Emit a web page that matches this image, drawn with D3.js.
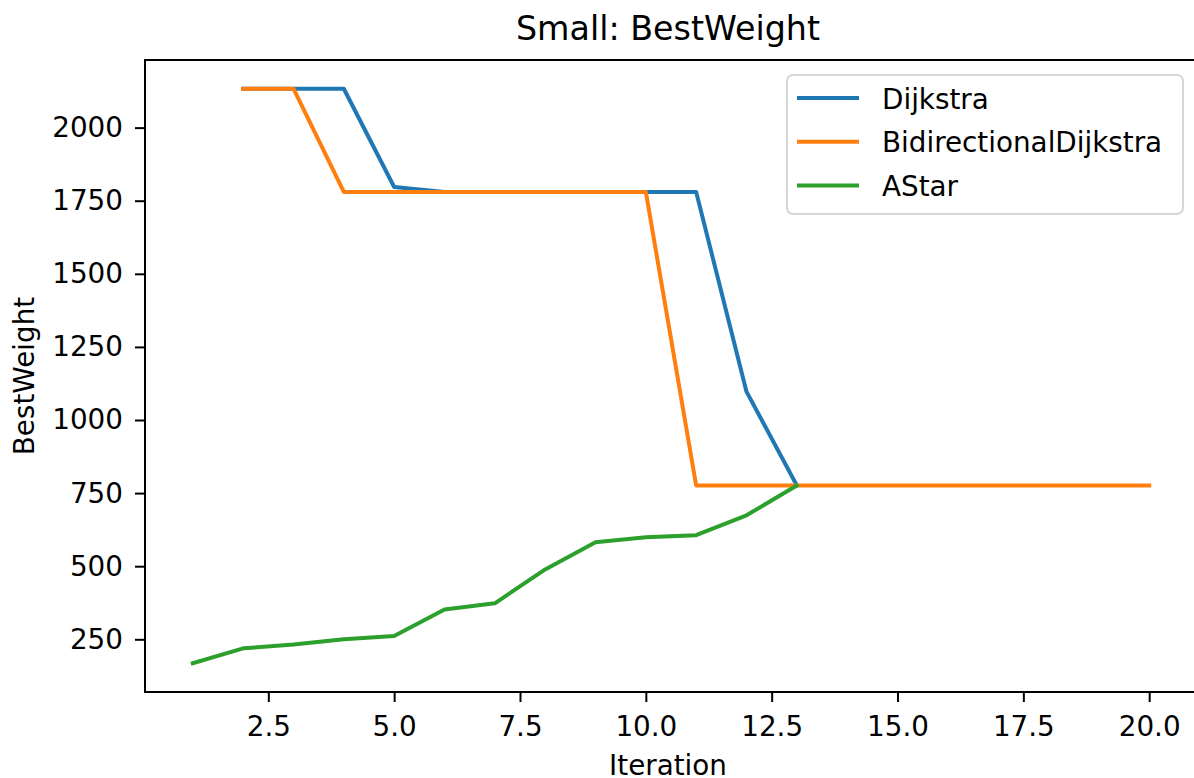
<!DOCTYPE html>
<html>
<head>
<meta charset="utf-8">
<script src="https://cdn.jsdelivr.net/npm/d3@7"></script>
<style>
  body { margin: 0; background: #fff; }
  svg text { font-family: "DejaVu Sans", sans-serif; fill: #000; }
</style>
</head>
<body>
<svg id="chart" width="1194" height="778"></svg>
<script>
// values
var dijkstraX = [2, 3, 4, 5, 6, 7, 8, 9, 10, 11, 12, 13];
var dijkstraY = [2133, 2133, 2133, 1797, 1780, 1780, 1780, 1780, 1780, 1780, 1097, 776];

var bidirX = [2, 3, 4, 5, 6, 7, 8, 9, 10, 11, 12, 13, 14, 15, 16, 17, 18, 19, 20];
var bidirY = [2133, 2133, 1780, 1780, 1780, 1780, 1780, 1780, 1780, 776, 776, 776, 776, 776, 776, 776, 776, 776, 776];

var astarX = [1, 2, 3, 4, 5, 6, 7, 8, 9, 10, 11, 12, 13];
var astarY = [168, 219, 232, 250, 261, 352, 373, 489, 582, 599, 606, 674, 776];

var seriesNames = ["Dijkstra", "BidirectionalDijkstra", "AStar"];
var seriesColors = ["#1f77b4", "#ff7f0e", "#2ca02c"];

var xTicks = [2.5, 5.0, 7.5, 10.0, 12.5, 15.0, 17.5, 20.0];
var yTicks = [250, 500, 750, 1000, 1250, 1500, 1750, 2000];

var svg = d3.select("#chart");

// plot area (right spine falls just past the picture edge, as in the original)
var plotLeft = 145, plotRight = 1197, plotTop = 60, plotBottom = 692;
var fontSize = 27.8;

var x = d3.scaleLinear().domain([0.05, 20.95]).range([plotLeft, plotRight]);
var y = d3.scaleLinear().domain([69.75, 2231.25]).range([plotBottom, plotTop]);

var series = [
  { x: dijkstraX, y: dijkstraY },
  { x: bidirX, y: bidirY },
  { x: astarX, y: astarY }
];

var line = d3.line()
  .x(function(d) { return x(d[0]); })
  .y(function(d) { return y(d[1]); });

svg.selectAll("path.series")
  .data(series)
  .enter().append("path")
  .attr("class", "series")
  .attr("d", function(s) { return line(d3.zip(s.x, s.y)); })
  .attr("fill", "none")
  .attr("stroke", function(s, i) { return seriesColors[i]; })
  .attr("stroke-width", 4)
  .attr("stroke-linejoin", "round")
  .attr("stroke-linecap", "square");

// axes
var xAxis = svg.append("g")
  .attr("transform", "translate(0," + plotBottom + ")")
  .call(d3.axisBottom(x).tickValues(xTicks).tickFormat(d3.format(".1f")).tickSize(10).tickSizeOuter(0));
xAxis.selectAll("text").attr("y", 24).attr("font-size", fontSize);

var yAxis = svg.append("g")
  .attr("transform", "translate(" + plotLeft + ",0)")
  .call(d3.axisLeft(y).tickValues(yTicks).tickFormat(d3.format("d")).tickSize(10).tickSizeOuter(0));
yAxis.selectAll("text").attr("x", -22).attr("font-size", fontSize);

svg.selectAll(".domain").remove();
svg.selectAll(".tick line").attr("stroke", "#000").attr("stroke-width", 2);
svg.selectAll(".tick text").attr("font-family", "DejaVu Sans").attr("fill", "#000");

// frame
svg.append("rect")
  .attr("x", plotLeft).attr("y", plotTop)
  .attr("width", plotRight - plotLeft).attr("height", plotBottom - plotTop)
  .attr("fill", "none").attr("stroke", "#000").attr("stroke-width", 2);

// titles
var midX = (plotLeft + plotRight) / 2 - 3;
svg.append("text")
  .attr("x", midX).attr("y", 40)
  .attr("text-anchor", "middle").attr("font-size", 33.3)
  .text("Small: BestWeight");

svg.append("text")
  .attr("x", midX).attr("y", 775)
  .attr("text-anchor", "middle").attr("font-size", fontSize)
  .text("Iteration");

svg.append("text")
  .attr("transform", "translate(34," + (plotTop + plotBottom) / 2 + ") rotate(-90)")
  .attr("text-anchor", "middle").attr("font-size", fontSize)
  .text("BestWeight");

// legend
var legend = svg.append("g");
legend.append("rect")
  .attr("x", 787).attr("y", 75).attr("width", 396).attr("height", 139)
  .attr("rx", 6)
  .attr("fill", "#fff").attr("fill-opacity", 0.8)
  .attr("stroke", "#d6d6d6").attr("stroke-width", 2);

var rows = legend.selectAll("g.row")
  .data(seriesNames)
  .enter().append("g")
  .attr("class", "row")
  .attr("transform", function(d, i) { return "translate(0," + (98 + i * 43.7) + ")"; });

rows.append("line")
  .attr("x1", 797).attr("x2", 859)
  .attr("stroke", function(d, i) { return seriesColors[i]; })
  .attr("stroke-width", 4);

rows.append("text")
  .attr("x", 882).attr("dy", "0.38em")
  .attr("font-size", fontSize)
  .text(function(d) { return d; });
</script>
</body>
</html>
